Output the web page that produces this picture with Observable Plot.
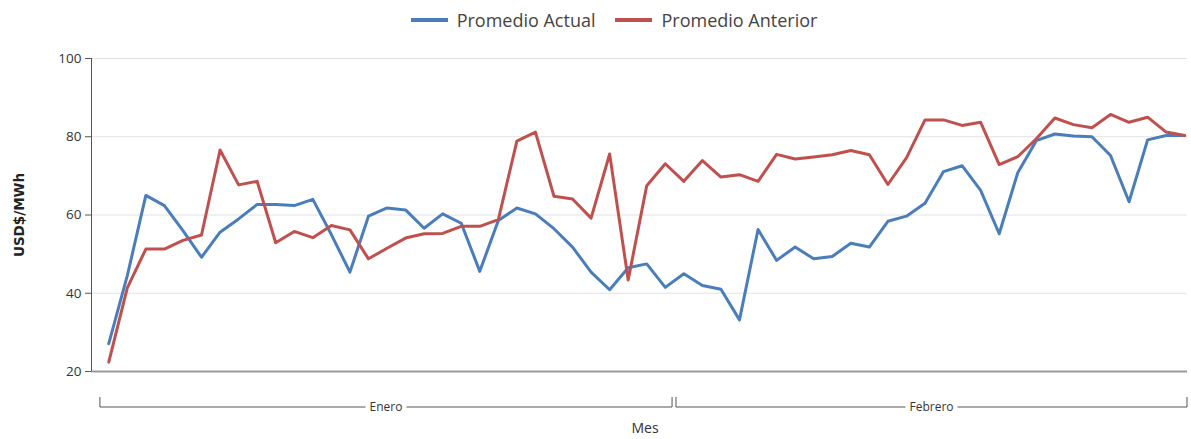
<!DOCTYPE html>
<html>
<head>
<meta charset="utf-8">
<script src="https://cdn.jsdelivr.net/npm/d3@7"></script>
<script src="https://cdn.jsdelivr.net/npm/@observablehq/plot@0.6"></script>
<style>
  html, body { margin: 0; padding: 0; background: #fff; }
  #legend { height: 40px; display: flex; justify-content: center; align-items: center; gap: 20px;
            font-family: "Open Sans", sans-serif; font-size: 18px; color: #444; padding-left: 37px; box-sizing: border-box; }
  .item { display: flex; align-items: center; gap: 9px; }
  .sw { width: 37px; height: 4px; }
</style>
</head>
<body>
<div id="legend"></div>
<div id="chart"></div>
<script>
const series = ["Promedio Actual", "Promedio Anterior"];
const colors = ["#4a7ebb", "#c0504d"];
const months = ["Enero", "Febrero"];
const monthLengths = [31, 28];
const yTicks = [20, 40, 60, 80, 100];
const yLabel = "USD$/MWh";
const xLabel = "Mes";

const actual = [27.1, 44.5, 65.0, 62.4, 56.0, 49.2, 55.6, 59.0, 62.7, 62.7,
  62.4, 64.0, 55.0, 45.4, 59.7, 61.8, 61.3, 56.6, 60.3, 57.9,
  45.6, 58.6, 61.8, 60.3, 56.5, 51.8, 45.4, 40.9, 46.5, 47.5,
  41.5, 45.0, 42.0, 41.0, 33.2, 56.3, 48.4, 51.8, 48.8, 49.4,
  52.8, 51.8, 58.4, 59.7, 63.0, 71.1, 72.6, 66.3, 55.2, 70.8,
  79.0, 80.7, 80.2, 80.0, 75.2, 63.4, 79.2, 80.3, 80.3];
const anterior = [22.4, 41.4, 51.3, 51.3, 53.5, 54.9, 76.6, 67.7, 68.6, 52.9,
  55.8, 54.2, 57.3, 56.2, 48.8, 51.5, 54.1, 55.2, 55.3, 57.1,
  57.1, 58.8, 78.9, 81.2, 64.8, 64.1, 59.2, 75.6, 43.4, 67.5,
  73.1, 68.6, 73.9, 69.7, 70.3, 68.6, 75.5, 74.3, 74.8, 75.4,
  76.5, 75.4, 67.8, 74.6, 84.3, 84.3, 82.9, 83.7, 72.9, 74.9,
  79.5, 84.8, 83.1, 82.3, 85.7, 83.7, 85.0, 81.2, 80.3];

const xDomain = [-0.93, 58.15];

const data = [];
[actual, anterior].forEach((vals, s) => vals.forEach((v, i) => data.push({i, value: v, serie: series[s]})));

// legend
const legend = document.getElementById("legend");
series.forEach((s, k) => {
  const it = document.createElement("div");
  it.className = "item";
  it.innerHTML = `<div class="sw" style="background:${colors[k]}"></div><span>${s}</span>`;
  legend.appendChild(it);
});

const plot = Plot.plot({
  width: 1191,
  height: 399,
  marginTop: 18,
  marginBottom: 68,
  marginLeft: 91,
  marginRight: 4,
  style: {fontFamily: "'Open Sans', sans-serif", color: "#333", background: "#fff"},
  x: {domain: xDomain, axis: null},
  y: {domain: [20, 100]},
  color: {domain: series, range: colors},
  marks: [
    Plot.gridY(yTicks, {stroke: "#e2e2e2", strokeOpacity: 1}),
    Plot.axisY(yTicks, {tickSize: 6, tickPadding: 4, label: null, fontSize: 13.5, stroke: "#555"}),
    Plot.text([yLabel], {frameAnchor: "left", textAnchor: "middle", rotate: -90, dx: -72, fontWeight: "bold", fontSize: 13.5, fontFamily: "DejaVu Sans", fill: "#222"}),
    Plot.ruleY([20], {stroke: "#999", strokeWidth: 2}),
    Plot.ruleX([xDomain[0]], {stroke: "#555"}),
    Plot.lineY(data, {x: "i", y: "value", stroke: "serie", strokeWidth: 3})
  ]
});
document.getElementById("chart").appendChild(plot);

// month brackets below the axis
const xs = plot.scale("x");
const svg = d3.select(plot);
const g = svg.append("g").attr("stroke", "#555").attr("fill", "none");
const yLine = 399 - 68 + 36;
let start = 0;
const bounds = [];
monthLengths.forEach((n, k) => {
  const a = k === 0 ? xs.apply(start - 0.45) : xs.apply(start - 0.45) + 1;
  const b = k === monthLengths.length - 1 ? xs.apply(xDomain[1]) : xs.apply(start + n - 0.5) - 2;
  bounds.push([a, b, months[k]]);
  start += n;
});
bounds.forEach(([a, b, name]) => {
  const mid = (a + b) / 2;
  const t = svg.append("text").attr("x", mid).attr("y", yLine).attr("dy", "0.35em")
    .attr("text-anchor", "middle").attr("font-size", 12).attr("fill", "#333")
    .attr("font-family", "'Open Sans', sans-serif").text(name);
  const w = t.node().getComputedTextLength() / 2 + 4;
  g.append("path").attr("d", `M${a},${yLine - 10}V${yLine}H${mid - w}M${mid + w},${yLine}H${b}V${yLine - 10}`);
});
svg.append("text").attr("x", (91 + 1187) / 2 + 6).attr("y", yLine + 21).attr("dy", "0.35em")
  .attr("text-anchor", "middle").attr("font-size", 14).attr("fill", "#333")
  .attr("font-family", "'Open Sans', sans-serif").text(xLabel);
</script>
</body>
</html>
